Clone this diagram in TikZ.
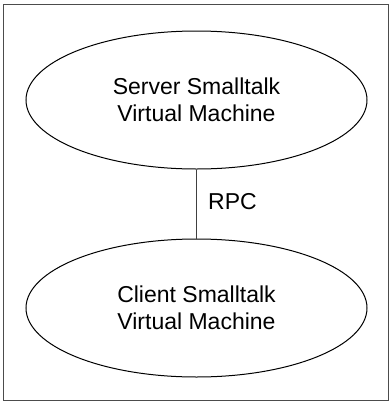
\documentclass[tikz,border=0pt]{standalone}
\usepackage{fontspec}
\setmainfont{Liberation Sans}
\usetikzlibrary{shapes.geometric}
\begin{document}
\begin{tikzpicture}[x=1pt,y=-1pt,
  vm/.style={ellipse,draw=black,line width=1pt,minimum width=341pt,minimum height=138pt,inner sep=0pt,align=center,font=\fontsize{23}{26.5}\selectfont},
  link/.style={draw=black!75,line width=1pt},
  lbl/.style={font=\fontsize{23}{26.5}\selectfont,inner sep=0pt,anchor=west}]
\useasboundingbox (0,0) rectangle (389,405);
\draw[draw=black!70,line width=1pt] (3,4) rectangle (388,400.5);
\node[vm] (server) at (196.5,100) {Server Smalltalk\\Virtual Machine};
\node[vm] (client) at (196.5,308) {Client Smalltalk\\Virtual Machine};
\draw[link] (server.south) -- (client.north);
\node[lbl] (rpc) at (208,202) {RPC};
\end{tikzpicture}
\end{document}
